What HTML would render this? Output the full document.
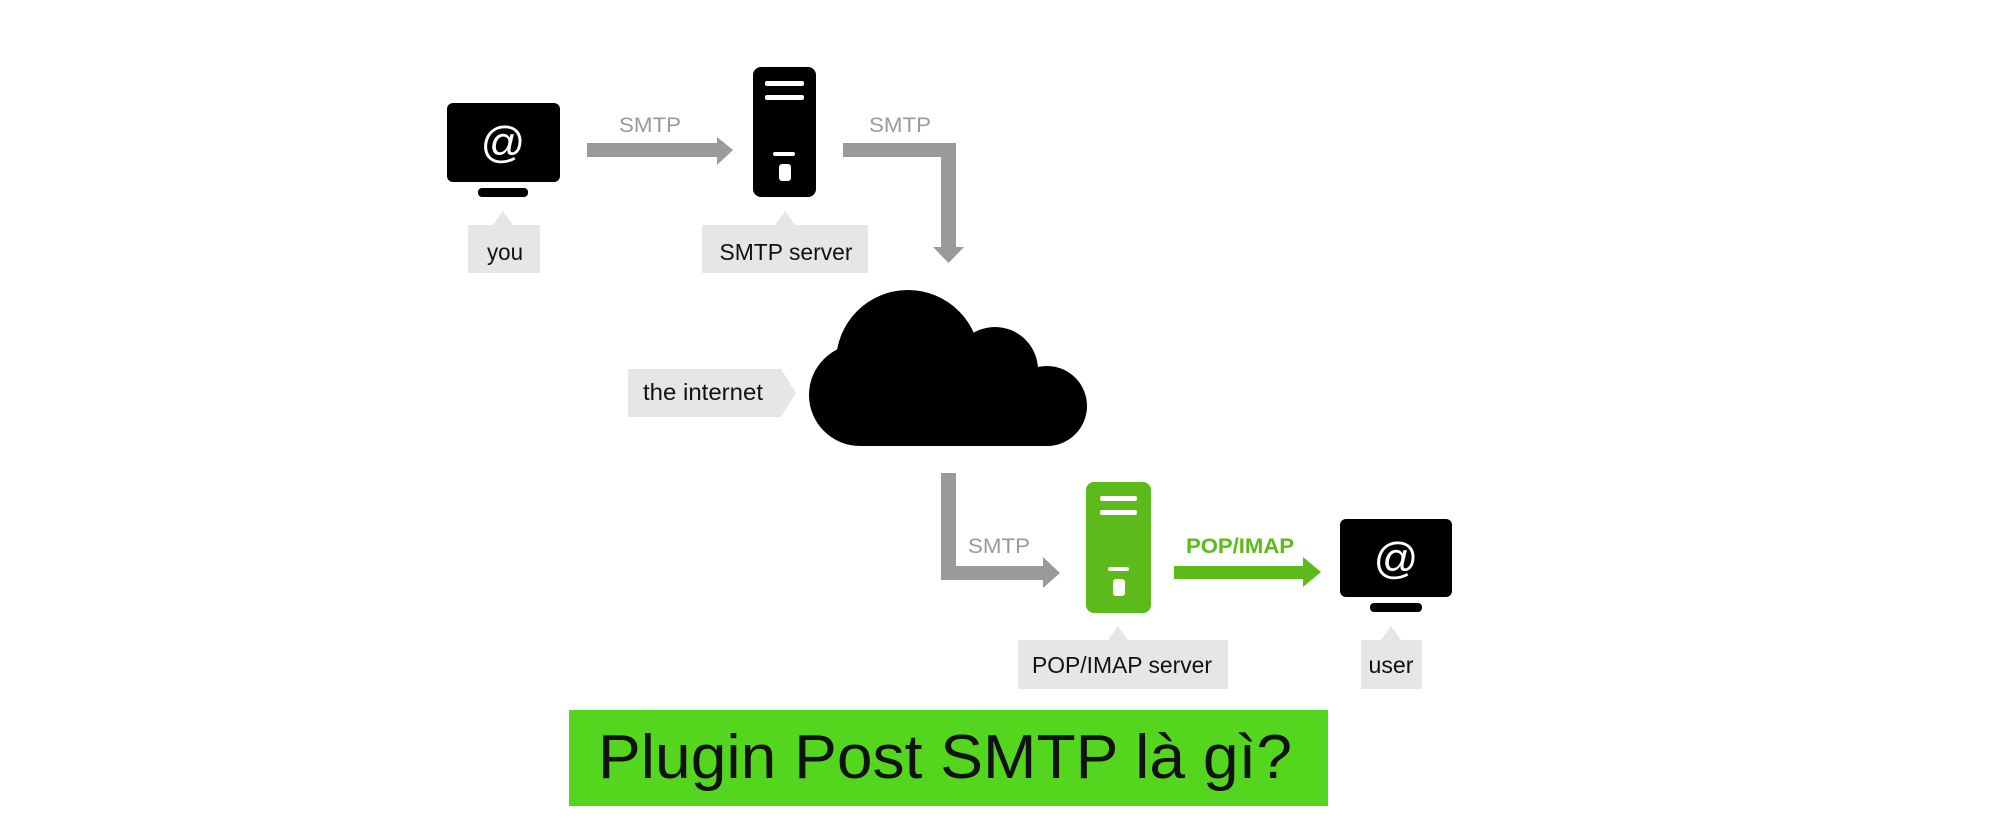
<!DOCTYPE html>
<html><head><meta charset="utf-8"><style>
html,body{margin:0;padding:0;background:#fff;}
svg{display:block;}
text{font-family:"Liberation Sans",sans-serif;}
</style></head><body>
<svg width="2000" height="833" viewBox="0 0 2000 833" xmlns="http://www.w3.org/2000/svg">
<rect width="2000" height="833" fill="#fff"/>
<!-- monitor you -->
<rect x="447" y="103" width="113" height="79" rx="6" fill="#000"/>
<rect x="478" y="188" width="50" height="9" rx="4" fill="#000"/>
<text x="503" y="157" font-size="44" fill="#fff" text-anchor="middle">@</text>
<path d="M468 225 H493 L503 211 L513 225 H540 V273 H468 Z" fill="#e6e6e6"/>
<text x="505" y="260" font-size="23" fill="#111" text-anchor="middle" textLength="36" lengthAdjust="spacingAndGlyphs">you</text>
<!-- arrow 1 -->
<rect x="587" y="143" width="132" height="14" fill="#9a9a9a"/>
<path d="M717 137 L733 150 L717 165 Z" fill="#9a9a9a"/>
<text x="650" y="132" font-size="21" fill="#9a9a9a" text-anchor="middle" textLength="62" lengthAdjust="spacingAndGlyphs">SMTP</text>
<!-- server 1 -->
<rect x="753" y="67" width="63" height="130" rx="8" fill="#000"/>
<rect x="765" y="81" width="39" height="5" rx="2" fill="#fff"/>
<rect x="765" y="95" width="39" height="5" rx="2" fill="#fff"/>
<rect x="773" y="152" width="22" height="4" rx="2" fill="#fff"/>
<rect x="779" y="164" width="12" height="17" rx="3" fill="#fff"/>
<path d="M702 225 H775 L785 211 L795 225 H868 V273 H702 Z" fill="#e6e6e6"/>
<text x="786" y="260" font-size="23" fill="#111" text-anchor="middle" textLength="133" lengthAdjust="spacingAndGlyphs">SMTP server</text>
<!-- arrow 2 -->
<path d="M843 143 H956 V250 H941 V157 H843 Z" fill="#9a9a9a"/>
<path d="M933 247 L964 247 L948.5 263 Z" fill="#9a9a9a"/>
<text x="900" y="132" font-size="21" fill="#9a9a9a" text-anchor="middle" textLength="62" lengthAdjust="spacingAndGlyphs">SMTP</text>
<!-- cloud -->
<g fill="#000">
<circle cx="860" cy="395" r="51"/>
<circle cx="908" cy="362" r="72"/>
<circle cx="995" cy="370" r="43"/>
<circle cx="1047" cy="406" r="40"/>
<rect x="860" y="395" width="187" height="51"/>
</g>
<path d="M628 369 H781 L796 393 L781 417 H628 Z" fill="#e6e6e6"/>
<text x="703" y="400" font-size="23" fill="#111" text-anchor="middle" textLength="120" lengthAdjust="spacingAndGlyphs">the internet</text>
<!-- arrow 3 -->
<path d="M941 473 H956 V566 H1045 V580 H941 Z" fill="#9a9a9a"/>
<path d="M1043 557 L1060 573 L1043 588 Z" fill="#9a9a9a"/>
<text x="999" y="553" font-size="21" fill="#9a9a9a" text-anchor="middle" textLength="62" lengthAdjust="spacingAndGlyphs">SMTP</text>
<!-- green server -->
<rect x="1086" y="482" width="65" height="131" rx="8" fill="#5cbb1a"/>
<rect x="1100" y="496" width="37" height="5" rx="2" fill="#fff"/>
<rect x="1100" y="510" width="37" height="5" rx="2" fill="#fff"/>
<rect x="1108" y="567" width="21" height="4" rx="2" fill="#fff"/>
<rect x="1113" y="579" width="12" height="17" rx="3" fill="#fff"/>
<path d="M1018 640 H1108 L1118 626 L1128 640 H1228 V689 H1018 Z" fill="#e6e6e6"/>
<text x="1122" y="673" font-size="23" fill="#111" text-anchor="middle" textLength="180" lengthAdjust="spacingAndGlyphs">POP/IMAP server</text>
<!-- green arrow -->
<rect x="1174" y="566" width="131" height="13" fill="#5cbb1a"/>
<path d="M1303 557 L1321 572 L1303 587 Z" fill="#5cbb1a"/>
<text x="1240" y="553" font-size="21" font-weight="bold" fill="#5cbb1a" text-anchor="middle" textLength="108" lengthAdjust="spacingAndGlyphs">POP/IMAP</text>
<!-- monitor user -->
<rect x="1340" y="519" width="112" height="78" rx="6" fill="#000"/>
<rect x="1370" y="603" width="52" height="9" rx="4" fill="#000"/>
<text x="1396" y="573" font-size="44" fill="#fff" text-anchor="middle">@</text>
<path d="M1361 640 H1381 L1391 626 L1401 640 H1422 V689 H1361 Z" fill="#e6e6e6"/>
<text x="1391" y="673" font-size="23" fill="#111" text-anchor="middle" textLength="45" lengthAdjust="spacingAndGlyphs">user</text>
<!-- title -->
<rect x="569" y="710" width="759" height="96" fill="#55d61e"/>
<text x="598" y="778" font-size="62" fill="#111" textLength="694" lengthAdjust="spacingAndGlyphs">Plugin Post SMTP là gì?</text>
</svg>
</body></html>
